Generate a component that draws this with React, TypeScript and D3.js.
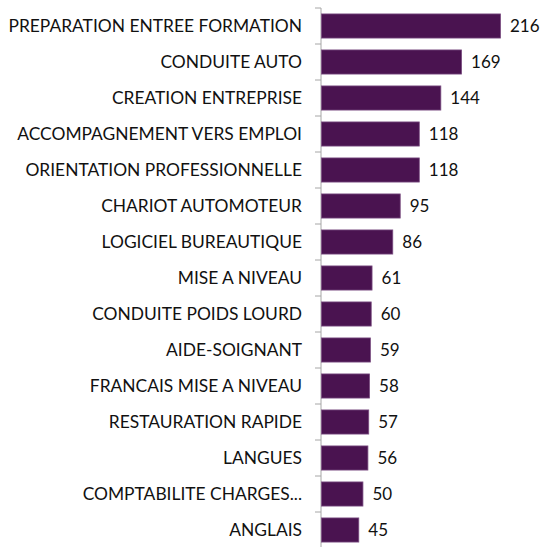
import React from 'react'
import * as d3 from 'd3'

const categories = [
  'PREPARATION ENTREE FORMATION',
  'CONDUITE AUTO',
  'CREATION ENTREPRISE',
  'ACCOMPAGNEMENT VERS EMPLOI',
  'ORIENTATION PROFESSIONNELLE',
  'CHARIOT AUTOMOTEUR',
  'LOGICIEL BUREAUTIQUE',
  'MISE A NIVEAU',
  'CONDUITE POIDS LOURD',
  'AIDE-SOIGNANT',
  'FRANCAIS MISE A NIVEAU',
  'RESTAURATION RAPIDE',
  'LANGUES',
  'COMPTABILITE CHARGES...',
  'ANGLAIS',
]
const values = [216, 169, 144, 118, 118, 95, 86, 61, 60, 59, 58, 57, 56, 50, 45]

const width = 544
const height = 547

export default function App() {
  const axisX = 321
  const y = d3.scaleBand<string>()
    .domain(categories)
    .range([8, 548])
    .paddingInner(0.33)
    .paddingOuter(0.165)
  const x = d3.scaleLinear().domain([0, 216]).range([axisX, 500])
  const step = y.step()
  const font = "Lato, sans-serif"

  return (
    <svg width={width} height={height} style={{ position: 'absolute', left: 0, top: 0 }}>
      {/* axis + tick marks at band edges */}
      <line x1={axisX} x2={axisX} y1={8} y2={548} stroke="#a6a6a6" strokeWidth={1} />
      {d3.range(categories.length + 1).map(i => (
        <line key={i} x1={axisX - 6} x2={axisX} y1={8 + i * step} y2={8 + i * step} stroke="#a6a6a6" strokeWidth={1} />
      ))}
      {categories.map((c, i) => {
        const yy = y(c)!
        const cy = yy + y.bandwidth() / 2
        return (
          <g key={c}>
            <rect
              x={x(0) + 0.5}
              y={yy}
              width={x(values[i]) - x(0)}
              height={y.bandwidth()}
              fill="#4a1350"
              stroke="#7a4d80"
              strokeWidth={0.8}
            />
            <text x={302} y={cy} dy="0.36em" textAnchor="end" fontFamily={font} fontSize={17.4} fill="#111">
              {c}
            </text>
            <text x={x(values[i]) + 10} y={cy} dy="0.36em" fontFamily={font} fontSize={17} fill="#111">
              {values[i]}
            </text>
          </g>
        )
      })}
    </svg>
  )
}
